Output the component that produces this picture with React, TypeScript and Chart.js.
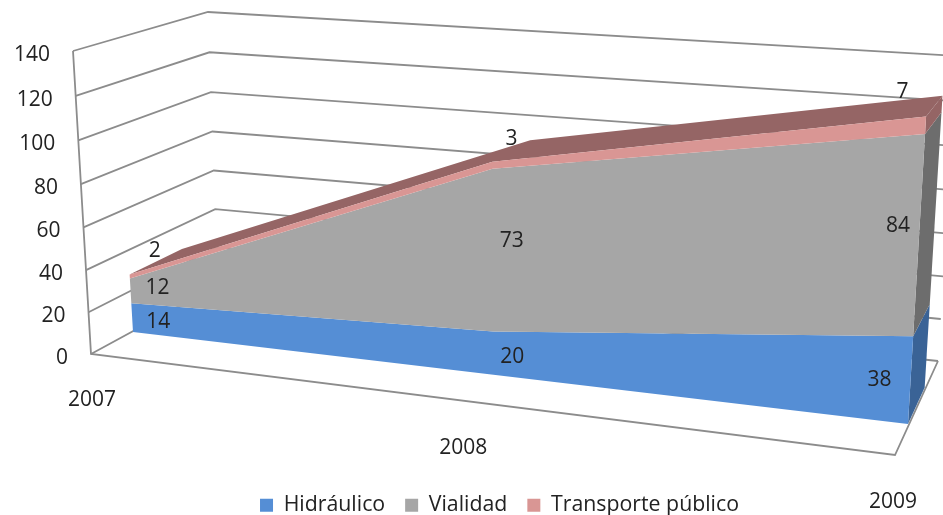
import React, { useEffect, useRef } from "react";
import { Chart, registerables } from "chart.js";

Chart.register(...registerables);

const years = ["2007", "2008", "2009"];
const hidraulico = [14, 20, 38];
const vialidad = [12, 73, 84];
const transporte = [2, 3, 7];
const yMax = 140;
const yStep = 20;

const FONT = '"Open Sans", sans-serif';
const INK = "#222222";
const GRID = "#8c8c8c";

type Pt = [number, number];
type Plane = number[];

// Maps the unit square (u along the categories, t up the value axis) onto a quadrilateral.
function plane(p00: Pt, p10: Pt, p11: Pt, p01: Pt): Plane {
  const dx1 = p10[0] - p11[0], dx2 = p01[0] - p11[0], sx = p00[0] - p10[0] + p11[0] - p01[0];
  const dy1 = p10[1] - p11[1], dy2 = p01[1] - p11[1], sy = p00[1] - p10[1] + p11[1] - p01[1];
  const den = dx1 * dy2 - dx2 * dy1;
  const g = (sx * dy2 - dx2 * sy) / den;
  const h = (dx1 * sy - sx * dy1) / den;
  return [
    p10[0] - p00[0] + g * p10[0], p01[0] - p00[0] + h * p01[0], p00[0],
    p10[1] - p00[1] + g * p10[1], p01[1] - p00[1] + h * p01[1], p00[1],
    g, h, 1,
  ];
}

// Projective camera of the 3-D view: three planes and the vanishing point of the depth axis.
const frontWall = plane([91, 354], [895, 455], [915, 119], [73, 51]);
const backWall = plane([218, 285], [938, 361], [958, 56], [208, 12]);
const areaFront = plane([133, 332], [908, 424], [927.7, 89], [115.5, 34]);
const depthVanish: Pt = [1219, -255];
const depthStrength = 0.05;
const categoryBow = -0.015;

function onPlane(m: Plane, u: number, t: number, depth = 0): Pt {
  const x = m[0] * u + m[1] * t + m[2];
  const y = m[3] * u + m[4] * t + m[5];
  const w = m[6] * u + m[7] * t + m[8];
  const k = depth * depthStrength;
  return [(x + k * depthVanish[0]) / (w + k), (y + k * depthVanish[1]) / (w + k)];
}

function polygon(ctx: CanvasRenderingContext2D, pts: Pt[], color: string) {
  ctx.beginPath();
  pts.forEach((p, i) => (i ? ctx.lineTo(p[0], p[1]) : ctx.moveTo(p[0], p[1])));
  ctx.closePath();
  ctx.fillStyle = color;
  ctx.fill();
}

function polyline(ctx: CanvasRenderingContext2D, pts: Pt[]) {
  ctx.beginPath();
  pts.forEach((p, i) => (i ? ctx.lineTo(p[0], p[1]) : ctx.moveTo(p[0], p[1])));
  ctx.strokeStyle = GRID;
  ctx.lineWidth = 1.8;
  ctx.stroke();
}

const sideColors = ["#3a6396", "#6d6d6d", "#956565"];
const roofColor = "#956565";

// Label nudges away from the projected band centre, by column and by series.
const labelDx = [[26, 19, -31], [27, 19, -21], [25, 19, -23]];
const labelDy = [[4, 4, 0], [-3, -10, -11], [-26, -26, -33]];
const categoryLabelDx = [1, -4, -2];
const categoryLabelDy = [46, 47, 47];

const area3d = {
  id: "area3d",
  beforeDatasetsDraw(chart: any) {
    const { ctx, scales } = chart;
    const xs = scales.x;
    const ys = scales.y;
    const first = xs.getPixelForValue(0);
    const last = xs.getPixelForValue(years.length - 1);
    const uOf = (px: number) => {
      const u = (px - first) / (last - first);
      return u + categoryBow * u * (1 - u);
    };
    const zero = ys.getPixelForValue(0);
    const full = ys.getPixelForValue(yMax);
    const tOf = (py: number) => (py - zero) / (full - zero);

    ctx.save();

    // Walls and floor
    ys.ticks.forEach((tick: any) => {
      const t = tOf(ys.getPixelForValue(tick.value));
      polyline(ctx, [onPlane(frontWall, 0, t), onPlane(backWall, 0, t), onPlane(backWall, 1, t)]);
    });
    polyline(ctx, [onPlane(frontWall, 0, 1), onPlane(frontWall, 0, 0), onPlane(frontWall, 1, 0), onPlane(backWall, 1, 0)]);

    const metas = chart.data.datasets.map((_: any, i: number) => chart.getDatasetMeta(i));
    const bands = metas.map((meta: any, s: number) =>
      meta.data.map((pt: any, j: number) => ({
        u: uOf(pt.x),
        top: tOf(pt.y),
        base: s ? tOf(metas[s - 1].data[j].y) : 0,
      }))
    );

    // Roof of the top series
    const roof = bands[bands.length - 1];
    polygon(ctx, [
      ...roof.map((b: any) => onPlane(areaFront, b.u, b.top, 0)),
      ...roof.slice().reverse().map((b: any) => onPlane(areaFront, b.u, b.top, 1)),
    ], roofColor);

    // End caps on the right, then the front faces
    bands.forEach((band: any[], s: number) => {
      const e = band[band.length - 1];
      polygon(ctx, [
        onPlane(areaFront, e.u, e.base, 0), onPlane(areaFront, e.u, e.top, 0),
        onPlane(areaFront, e.u, e.top, 1), onPlane(areaFront, e.u, e.base, 1),
      ], sideColors[s]);
    });
    bands.forEach((band: any[], s: number) => {
      polygon(ctx, [
        ...band.map((b) => onPlane(areaFront, b.u, b.top)),
        ...band.slice().reverse().map((b) => onPlane(areaFront, b.u, b.base)),
      ], chart.data.datasets[s].backgroundColor);
    });

    ctx.font = `21px ${FONT}`;
    ctx.fillStyle = INK;
    ctx.textBaseline = "middle";

    // Value axis labels, stepping along the wall's front edge
    ctx.textAlign = "right";
    ys.ticks.forEach((tick: any) => {
      const p = onPlane(frontWall, 0, tOf(ys.getPixelForValue(tick.value)));
      ctx.fillText(tick.label, p[0] - 23, p[1] + 4);
    });

    // Value labels
    ctx.textAlign = "center";
    bands.forEach((band: any[], s: number) => {
      band.forEach((b, j) => {
        const p = onPlane(areaFront, b.u, (b.top + b.base) / 2);
        const value = chart.data.datasets[s].data[j];
        ctx.fillText(String(value), p[0] + labelDx[s][j], p[1] + labelDy[s][j]);
      });
    });

    // Category labels under the floor's front edge
    years.forEach((label, j) => {
      const p = onPlane(frontWall, uOf(xs.getPixelForValue(j)), 0);
      ctx.fillText(label, p[0] + categoryLabelDx[j], p[1] + categoryLabelDy[j]);
    });

    ctx.restore();
  },
};

export default function App() {
  const ref = useRef<HTMLCanvasElement>(null);
  useEffect(() => {
    const series = (label: string, data: number[], color: string) => ({
      label,
      data,
      backgroundColor: color,
      borderColor: color,
      borderWidth: 0,
      pointRadius: 0,
      showLine: false,
      fill: false,
    });
    const chart = new Chart(ref.current!, {
      type: "line",
      data: {
        labels: years,
        datasets: [
          series("Hidráulico", hidraulico, "#558ed5"),
          series("Vialidad", vialidad, "#a6a6a6"),
          series("Transporte público", transporte, "#d99694"),
        ],
      },
      options: {
        responsive: false,
        animation: false,
        layout: { padding: { left: 56, bottom: -11 } },
        scales: {
          x: { display: false },
          y: { display: false, stacked: true, min: 0, max: yMax, ticks: { stepSize: yStep } },
        },
        plugins: {
          tooltip: { enabled: false },
          legend: {
            position: "bottom",
            labels: {
              boxWidth: 13,
              boxHeight: 13,
              padding: 20,
              color: INK,
              font: { family: FONT, size: 21.3 },
            },
          },
        },
      },
      plugins: [area3d],
    } as any);
    return () => chart.destroy();
  }, []);
  return (
    <div style={{ position: "absolute", left: 0, top: 0, width: 943, height: 515, background: "#fff" }}>
      <canvas ref={ref} width={943} height={515} style={{ display: "block" }} />
    </div>
  );
}
